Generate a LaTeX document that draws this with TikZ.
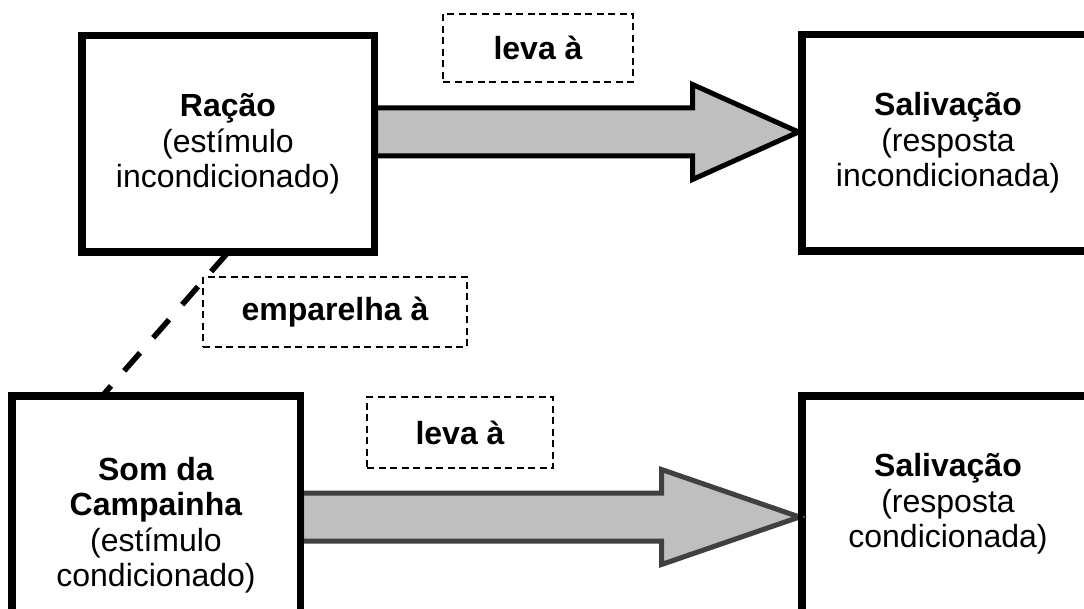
\documentclass[tikz,border=0pt]{standalone}
\usepackage{fontspec}
\setmainfont{Liberation Sans}
\usetikzlibrary{calc}

\tikzset{
  box/.style={draw, line width=5pt, fill=white, align=center, inner sep=0pt,
    font=\fontsize{32}{35.5}\selectfont},
  tag/.style={draw, line width=1.3pt, dash pattern=on 7pt off 4.5pt, align=center,
    inner sep=0pt, font=\fontsize{32}{35.5}\selectfont\bfseries},
  fatarrow/.style={fill=black!25, line width=5pt, line join=miter},
  pairline/.style={line width=5.5pt, dash pattern=on 24pt off 20pt},
  frame/.style={line width=5pt},
}

\begin{document}
\begin{tikzpicture}[x=1pt, y=-1pt]
  \useasboundingbox (0,0) rectangle (1084,609);
  \clip (0,0) rectangle (1084,609);
  \fill[white] (0,0) rectangle (1084,609);

  % boxes
  \node[box, minimum width=290pt, minimum height=214pt] (racao) at (228,144)
    {\textbf{Ração}\\(estímulo\\incondicionado)};
  \node[box, minimum width=290pt, minimum height=214pt] (salA) at (948,143)
    {\textbf{Salivação}\\(resposta\\incondicionada)};
  \node[box, minimum width=286pt, minimum height=256pt] (som) at (156,525)
    {\textbf{Som da}\\\textbf{Campainha}\\(estímulo\\condicionado)};
  \node[box, minimum width=290pt, minimum height=214pt] (salB) at (948,504)
    {\textbf{Salivação}\\(resposta\\condicionada)};

  % block arrows
  \coordinate (a1) at ($(racao.east)+(0,-12)$);
  \coordinate (t1) at ($(salA.west)+(-2,-11)$);
  \coordinate (a2) at ($(som.east)+(0,-8)$);
  \coordinate (t2) at ($(salB.west)+(-1,13)$);

  \draw[fatarrow, draw=black]
    ($(a1)+(0,-24)$) -- ($(t1)+(-106,-24)$) -- ($(t1)+(-106,-47.5)$) -- (t1)
    -- ($(t1)+(-106,47.5)$) -- ($(t1)+(-106,24)$) -- ($(a1)+(0,24)$) -- cycle;
  \draw[fatarrow, draw=black!75]
    ($(a2)+(0,-24)$) -- ($(t2)+(-138,-24)$) -- ($(t2)+(-138,-47.5)$) -- (t2)
    -- ($(t2)+(-138,47.5)$) -- ($(t2)+(-138,24)$) -- ($(a2)+(0,24)$) -- cycle;

  % box borders over the arrow ends
  \draw[frame] (racao.north west) rectangle (racao.south east);
  \draw[frame] (salA.north west) rectangle (salA.south east);
  \draw[frame] (som.north west) rectangle (som.south east);
  \draw[frame] (salB.north west) rectangle (salB.south east);

  % pairing link
  \coordinate (p2) at ([xshift=93pt]som.north west);
  \draw[pairline] ([xshift=-1pt]racao.south) -- (p2);

  % relation labels
  \node[tag, minimum width=190pt, minimum height=68pt] (leva1) at (538,48) {leva à};
  \node[tag, minimum width=264pt, minimum height=70pt] (empar) at (335,312) {emparelha à};
  \node[tag, minimum width=186pt, minimum height=71pt] (leva2) at (460,432.5) {leva à};
\end{tikzpicture}
\end{document}
